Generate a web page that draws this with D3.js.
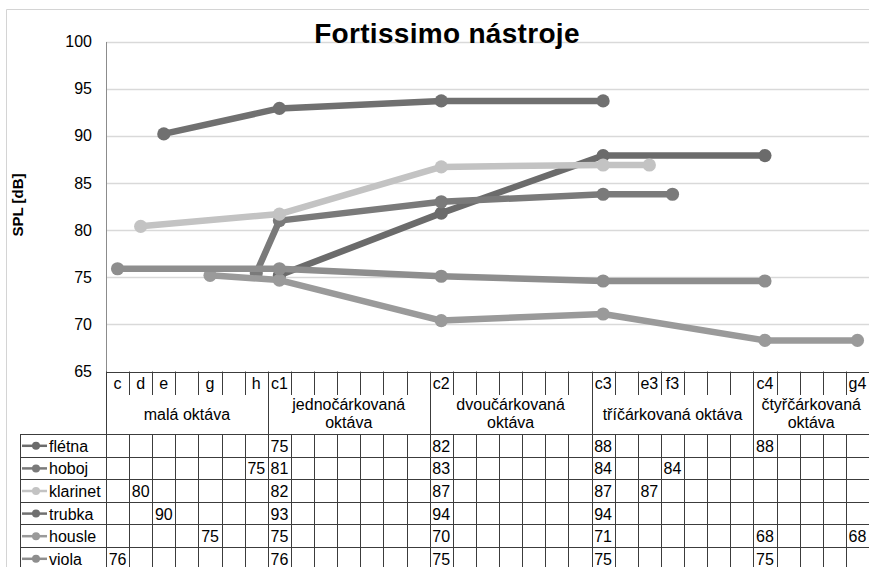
<!DOCTYPE html>
<meta charset="utf-8">
<head>
  <title>Fortissimo nástroje</title>
  <style>
    body { margin: 0; background: #fff; }
    text { font-family: "Liberation Sans", Arial, sans-serif; fill: #000; }
  </style>
</head>

<script src="https://d3js.org/d3.v7.min.js"></script>

<div id="chart"></div>

<script>

// all tones on the category axis
var notes = ["c","d","e","f","g","a","h",
             "c1","d1","e1","f1","g1","a1","h1",
             "c2","d2","e2","f2","g2","a2","h2",
             "c3","d3","e3","f3","g3","a3","h3",
             "c4","d4","e4","f4","g4"];

// only these names are written in the header row
var shownNotes = ["c","d","e","g","h","c1","c2","c3","e3","f3","c4","g4"];

// octave groups (first tone, number of tones, label lines)
var octaves = [
  {first: "c",  count: 7, label: ["malá oktáva"]},
  {first: "c1", count: 7, label: ["jednočárkovaná", "oktáva"]},
  {first: "c2", count: 7, label: ["dvoučárkovaná", "oktáva"]},
  {first: "c3", count: 7, label: ["tříčárkovaná oktáva"]},
  {first: "c4", count: 5, label: ["čtyřčárkovaná", "oktáva"]}
];

var yTicks = [65, 70, 75, 80, 85, 90, 95, 100];

// series values [tone, SPL dB]
var fletna   = [["c1", 75.2], ["c2", 81.8], ["c3", 87.9], ["c4", 87.9]];
var hoboj    = [["h", 75.45], ["c1", 81.0], ["c2", 83.0], ["c3", 83.8], ["f3", 83.8]];
var klarinet = [["d", 80.4], ["c1", 81.7], ["c2", 86.7], ["c3", 86.9], ["e3", 86.9]];
var trubka   = [["e", 90.2], ["c1", 92.9], ["c2", 93.7], ["c3", 93.7]];
var housle   = [["g", 75.2], ["c1", 74.7], ["c2", 70.4], ["c3", 71.1], ["c4", 68.3], ["g4", 68.3]];
var viola    = [["c", 75.9], ["c1", 75.9], ["c2", 75.1], ["c3", 74.6], ["c4", 74.6]];

var seriesNames = ["flétna", "hoboj", "klarinet", "trubka", "housle", "viola"];
var seriesData = [fletna, hoboj, klarinet, trubka, housle, viola];

var colors = ["#6b6b6b", "#7a7a7a", "#c3c3c3", "#707070", "#9a9a9a", "#8e8e8e"];

var W = 869, H = 567;
var plotLeft = 106, plotRight = 869, plotTop = 41.5, plotBottom = 371.5;
var tableLeft = 20;
var headRow1 = 395, tableTop = 434, rowH = 22.6;

var svg = d3.select("#chart").append("svg")
  .attr("width", W)
  .attr("height", H);

// chart area frame (left and top)
svg.append("line").attr("x1", 6.5).attr("x2", 6.5).attr("y1", 9.5).attr("y2", H)
  .attr("stroke", "#d4d4d4");
svg.append("line").attr("x1", 6.5).attr("x2", W).attr("y1", 9.5).attr("y2", 9.5)
  .attr("stroke", "#d4d4d4");

var x = d3.scaleBand().domain(notes).range([plotLeft, plotRight]).padding(0);
var y = d3.scaleLinear().domain([65, 100]).range([plotBottom, plotTop]);

// gridlines
svg.append("g")
  .selectAll("line")
  .data(yTicks.filter(function(d) { return d > 65; }))
  .enter().append("line")
    .attr("x1", plotLeft).attr("x2", plotRight)
    .attr("y1", function(d) { return Math.round(y(d)) + 0.5; })
    .attr("y2", function(d) { return Math.round(y(d)) + 0.5; })
    .attr("stroke", "#d9d9d9")
    .attr("stroke-width", 1.5);

// y axis
var yAxis = svg.append("g")
  .attr("transform", "translate(" + plotLeft + ",0)")
  .call(d3.axisLeft(y).tickValues(yTicks).tickSize(0).tickPadding(14));
yAxis.select(".domain").attr("stroke", "#8c8c8c");
yAxis.selectAll("text")
  .style("font-family", "Liberation Sans, Arial, sans-serif")
  .style("font-size", "16px")
  .attr("fill", "#000");

svg.append("text")
  .attr("transform", "translate(23,205) rotate(-90)")
  .style("text-anchor", "middle")
  .style("font-weight", "bold")
  .style("font-size", "15px")
  .text("SPL [dB]");

// title
svg.append("text")
  .attr("x", 447)
  .attr("y", 43)
  .style("text-anchor", "middle")
  .style("font-weight", "bold")
  .style("font-size", "28px")
  .style("letter-spacing", "0.3px")
  .text("Fortissimo nástroje");

// lines and markers
var line = d3.line()
  .x(function(d) { return x(d[0]) + x.bandwidth() / 2; })
  .y(function(d) { return y(d[1]); });

seriesData.forEach(function(s, i) {
  svg.append("path")
    .datum(s)
    .attr("fill", "none")
    .attr("stroke", colors[i])
    .attr("stroke-width", 6.5)
    .attr("stroke-linejoin", "round")
    .attr("d", line);
  svg.append("g")
    .selectAll("circle")
    .data(s)
    .enter().append("circle")
      .attr("cx", function(d) { return x(d[0]) + x.bandwidth() / 2; })
      .attr("cy", function(d) { return y(d[1]); })
      .attr("r", 6.6)
      .attr("fill", colors[i]);
});

// ---- data table ----
var grid = svg.append("g").attr("stroke", "#3c3c3c").attr("stroke-width", 1);

// top of category header
grid.append("line").attr("x1", plotLeft).attr("x2", plotRight)
  .attr("y1", Math.round(plotBottom) + 0.5).attr("y2", Math.round(plotBottom) + 0.5);

// row lines
d3.range(seriesNames.length + 1).forEach(function(r) {
  var yy = Math.round(tableTop + r * rowH) + 0.5;
  grid.append("line").attr("x1", tableLeft).attr("x2", plotRight)
    .attr("y1", yy).attr("y2", yy);
});
grid.append("line").attr("x1", tableLeft + 0.5).attr("x2", tableLeft + 0.5)
  .attr("y1", tableTop).attr("y2", H);

// column lines
var groupStarts = octaves.map(function(o) { return o.first; });
notes.forEach(function(n) {
  var xx = Math.round(x(n)) + 0.5;
  if (groupStarts.indexOf(n) >= 0) {
    grid.append("line").attr("x1", xx).attr("x2", xx)
      .attr("y1", plotBottom).attr("y2", H);
  } else {
    grid.append("line").attr("x1", xx).attr("x2", xx)
      .attr("y1", plotBottom).attr("y2", headRow1);
    grid.append("line").attr("x1", xx).attr("x2", xx)
      .attr("y1", tableTop).attr("y2", H);
  }
});

// tone labels
svg.append("g")
  .selectAll("text")
  .data(shownNotes)
  .enter().append("text")
    .attr("x", function(d) { return x(d) + x.bandwidth() / 2; })
    .attr("y", 389)
    .style("text-anchor", "middle")
    .style("font-size", "16px")
    .text(function(d) { return d; });

// octave labels
octaves.forEach(function(o) {
  var x0 = x(o.first);
  var cx = x0 + o.count * x.bandwidth() / 2;
  var t = svg.append("text")
    .attr("x", cx)
    .style("text-anchor", "middle")
    .style("font-size", "16px");
  if (o.label.length === 1) {
    t.attr("y", 420).text(o.label[0]);
  } else {
    t.attr("y", 410);
    o.label.forEach(function(l, k) {
      t.append("tspan").attr("x", cx).attr("dy", k === 0 ? 0 : 18).text(l);
    });
  }
});

// legend keys and values
var fmt = d3.format(".0f");
seriesNames.forEach(function(name, i) {
  var cy = tableTop + i * rowH + rowH / 2 + 0.5;
  svg.append("line")
    .attr("x1", 22).attr("x2", 47)
    .attr("y1", cy).attr("y2", cy)
    .attr("stroke", colors[i]).attr("stroke-width", 2.5);
  svg.append("circle")
    .attr("cx", 36).attr("cy", cy).attr("r", 4)
    .attr("fill", colors[i]);
  svg.append("text")
    .attr("x", 49)
    .attr("y", cy + 6)
    .style("font-size", "16px")
    .text(name);

  svg.append("g")
    .selectAll("text")
    .data(seriesData[i])
    .enter().append("text")
      .attr("x", function(d) { return x(d[0]) + x.bandwidth() / 2; })
      .attr("y", cy + 6)
      .style("text-anchor", "middle")
      .style("font-size", "16px")
      .text(function(d) { return fmt(d[1]); });
});

</script>
